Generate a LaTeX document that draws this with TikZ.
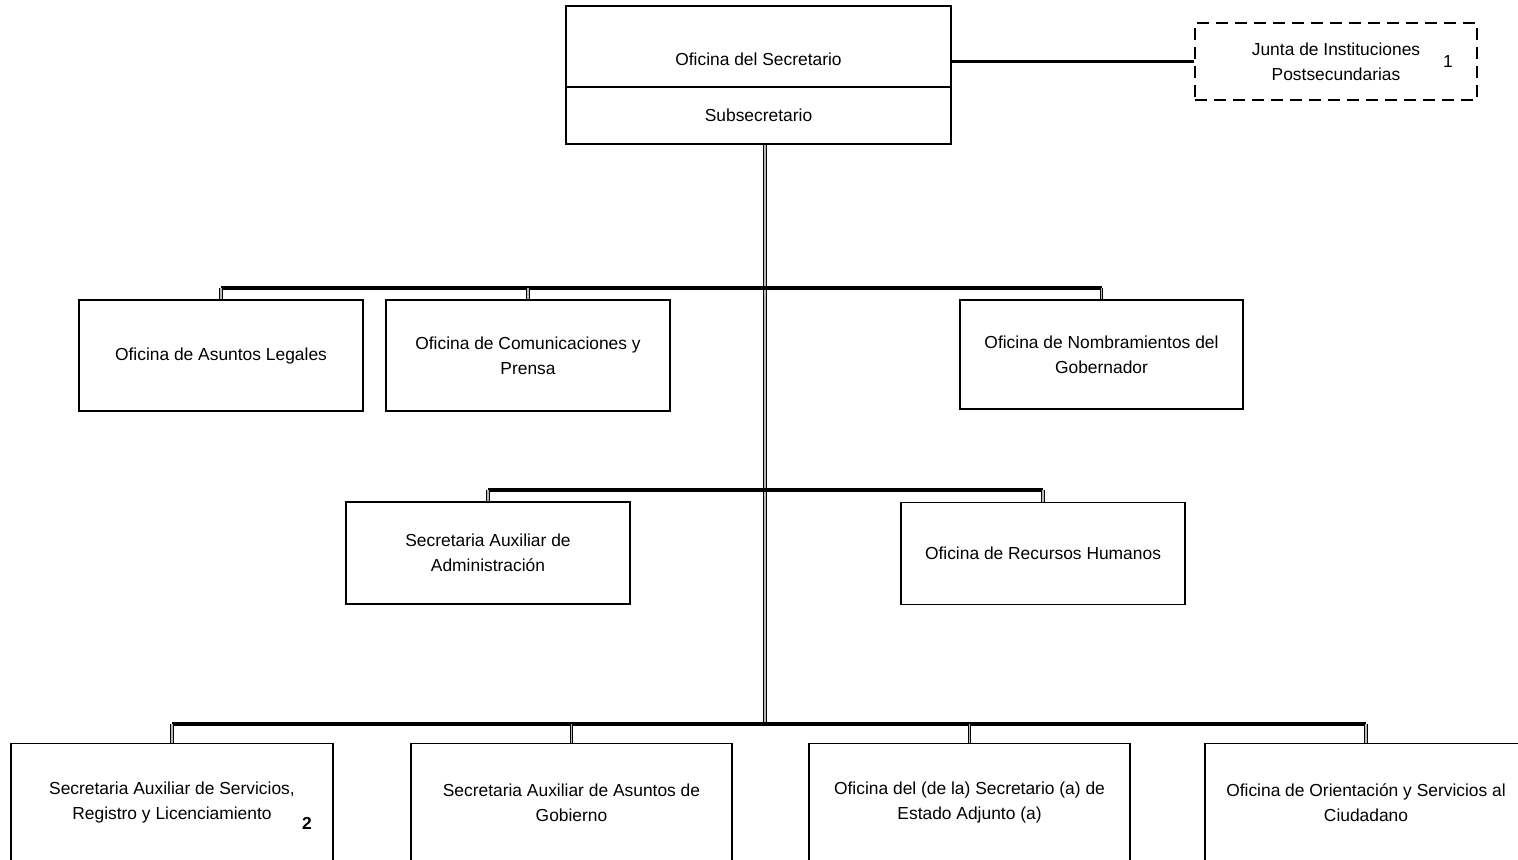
\documentclass[tikz,border=0pt]{standalone}
\usepackage{fontspec}
\setmainfont{Liberation Sans}
\begin{document}
\begin{tikzpicture}[x=0.5pt, y=-0.5pt,
    caja/.style={draw, line width=0.8pt, align=center, inner sep=0pt,
        font=\fontsize{8.7}{12.5}\selectfont},
    junta/.style={caja, dash pattern=on 6pt off 3.5pt},
    bus/.style={line width=1.6pt},
    baja/.style={line width=0.35pt, double=gray!55, double distance=0.9pt},
    enlace/.style={line width=1.5pt},
    nota/.style={font=\fontsize{8.7}{10}\selectfont}]

    \useasboundingbox (0, 0) rectangle (1518, 859);
    \clip (0, 0) rectangle (1518, 859);

    \node[caja, minimum width=192.5pt, minimum height=40.5pt,
        text height=21pt, text depth=2pt] (sec) at (758.5, 46.5) {Oficina del Secretario};
    \node[caja, minimum width=192.5pt, minimum height=28.5pt] (subsec) at (758.5, 115.5) {Subsecretario};

    \node[junta, minimum width=141pt, minimum height=38.5pt] (junta) at (1336, 61.5)
        {Junta de Instituciones\\Postsecundarias};
    \node[nota] (n1) at (1448, 62) {1};

    \node[caja, minimum width=142pt, minimum height=55.5pt] (legales) at (221, 355.5)
        {Oficina de Asuntos Legales};
    \node[caja, minimum width=142pt, minimum height=55.5pt] (prensa) at (528, 355.5)
        {Oficina de Comunicaciones y\\Prensa};
    \node[caja, minimum width=141.5pt, minimum height=54.5pt] (nombra) at (1101.5, 354.5)
        {Oficina de Nombramientos del\\Gobernador};

    \node[caja, minimum width=142pt, minimum height=51pt] (admin) at (488, 553)
        {Secretaria Auxiliar de\\Administración};
    \node[caja, minimum width=142pt, minimum height=51pt] (rrhh) at (1043, 553.5)
        {Oficina de Recursos Humanos};

    \node[caja, minimum width=161pt, minimum height=59pt] (servicios) at (172, 802.5)
        {Secretaria Auxiliar de Servicios,\\Registro y Licenciamiento};
    \node[nota, font=\fontsize{8.7}{10}\selectfont\bfseries] (n2) at (307, 823) {2};
    \node[caja, minimum width=160.5pt, minimum height=59pt] (gobierno) at (571.5, 802.5)
        {Secretaria Auxiliar de Asuntos de\\Gobierno};
    \node[caja, minimum width=160.5pt, minimum height=59pt] (adjunto) at (969.5, 802.5)
        {Oficina del (de la) Secretario (a) de\\Estado Adjunto (a)};
    \node[caja, minimum width=161pt, minimum height=59pt] (ciudadano) at (1366, 802.5)
        {Oficina de Orientación y Servicios al\\Ciudadano};

    \coordinate (b1) at (765, 288);
    \coordinate (b2) at (765, 490);
    \coordinate (b3) at (765, 724);

    \draw[enlace] (sec.east |- junta.west) -- (junta.west);
    \draw[baja] (subsec.south -| b3) -- (b3);

    \draw[bus] (legales.north |- b1) -- (nombra.north |- b1);
    \draw[baja] (legales.north |- b1) -- (legales.north);
    \draw[baja] (prensa.north |- b1) -- (prensa.north);
    \draw[baja] (nombra.north |- b1) -- (nombra.north);

    \draw[bus] (admin.north |- b2) -- (rrhh.north |- b2);
    \draw[baja] (admin.north |- b2) -- (admin.north);
    \draw[baja] (rrhh.north |- b2) -- (rrhh.north);

    \draw[bus] (servicios.north |- b3) -- (ciudadano.north |- b3);
    \draw[baja] (servicios.north |- b3) -- (servicios.north);
    \draw[baja] (gobierno.north |- b3) -- (gobierno.north);
    \draw[baja] (adjunto.north |- b3) -- (adjunto.north);
    \draw[baja] (ciudadano.north |- b3) -- (ciudadano.north);

\end{tikzpicture}
\end{document}
